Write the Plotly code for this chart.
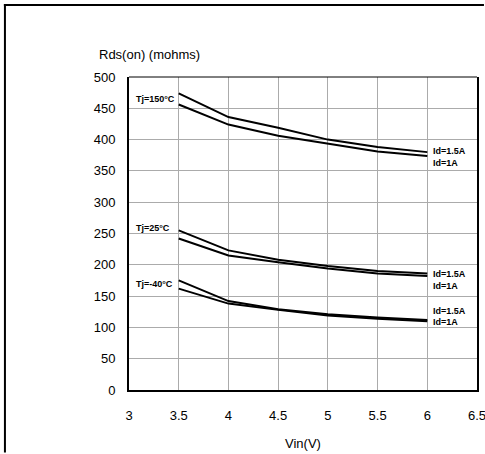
import plotly.graph_objects as go

vin = [3.5, 4.0, 4.5, 5.0, 5.5, 6.0]
r150_15 = [474, 436, 419, 400, 388, 380]
r150_10 = [456, 424, 406, 393, 381, 374]
r25_15 = [255, 223, 208, 198, 190, 186]
r25_10 = [242, 215, 204, 194, 186, 182]
rm40_15 = [175, 142, 129, 121, 116, 112]
rm40_10 = [162, 138, 128, 119, 114, 110]

x_ticks = [3, 3.5, 4, 4.5, 5, 5.5, 6, 6.5]
x_tick_text = ["3", "3.5", "4", "4.5", "5", "5.5", "6", "6.5"]
y_ticks = [0, 50, 100, 150, 200, 250, 300, 350, 400, 450, 500]

temp_labels = ["Tj=150°C", "Tj=25°C", "Tj=-40°C"]
temp_label_y = [465, 258, 170]
id_labels = ["Id=1.5A", "Id=1A", "Id=1.5A", "Id=1A", "Id=1.5A", "Id=1A"]
id_label_y = [382, 363, 186, 166, 127, 108]

FONT = "Liberation Sans, Arial, sans-serif"

fig = go.Figure()
for ys in [r150_15, r150_10, r25_15, r25_10, rm40_15, rm40_10]:
    fig.add_trace(go.Scatter(x=vin, y=ys, mode="lines",
                             line=dict(color="black", width=2),
                             showlegend=False, hoverinfo="skip"))

annotations = []
for t, y in zip(temp_labels, temp_label_y):
    annotations.append(dict(x=3.055, y=y, xref="x", yref="y", text="<b>%s</b>" % t,
                            showarrow=False, xanchor="left", yanchor="middle",
                            font=dict(family=FONT, size=9, color="black")))
for t, y in zip(id_labels, id_label_y):
    annotations.append(dict(x=6.035, y=y, xref="x", yref="y", text="<b>%s</b>" % t,
                            showarrow=False, xanchor="left", yanchor="middle",
                            font=dict(family=FONT, size=9, color="black")))
annotations.append(dict(x=-0.092, y=1.073, xref="paper", yref="paper",
                        text="Rds(on) (mohms)", showarrow=False,
                        xanchor="left", yanchor="middle",
                        font=dict(family=FONT, size=13, color="black")))
annotations.append(dict(x=0.5, y=-0.172, xref="paper", yref="paper",
                        text="Vin(V)", showarrow=False,
                        xanchor="center", yanchor="middle",
                        font=dict(family=FONT, size=13, color="black")))

fig.update_layout(
    width=485, height=454,
    margin=dict(l=129, r=8, t=77, b=64, pad=0, autoexpand=False),
    paper_bgcolor="white", plot_bgcolor="white",
    font=dict(family=FONT, size=13, color="black"),
    annotations=annotations,
    shapes=[
        dict(type="line", xref="paper", yref="paper", x0=0, x1=1, y0=1, y1=1,
             line=dict(color="black", width=1)),
        # outer frame: left and top edges only (rest is outside the picture)
        dict(type="line", xref="paper", yref="paper", x0=-0.3565, x1=-0.3565,
             y0=-0.2, y1=1.2333, line=dict(color="black", width=2)),
        dict(type="line", xref="paper", yref="paper", x0=-0.3595, x1=1.02,
             y0=1.2300, y1=1.2300, line=dict(color="black", width=2)),
    ],
    xaxis=dict(range=[3, 6.5], tickvals=x_ticks, ticktext=x_tick_text,
               showgrid=True, gridcolor="#ababab", gridwidth=1,
               showline=True, linecolor="black", linewidth=2, mirror=False,
               ticks="", ticklabelstandoff=12, zeroline=False, automargin=False,
               ticklabeloverflow="allow",
               tickfont=dict(family=FONT, size=13, color="black")),
    yaxis=dict(range=[0, 500], tickvals=y_ticks,
               showgrid=True, gridcolor="#ababab", gridwidth=1,
               showline=True, linecolor="black", linewidth=2, mirror=True,
               ticks="", ticklabelstandoff=9, zeroline=False, automargin=False,
               tickfont=dict(family=FONT, size=13, color="black")),
)

fig.write_html("out.html",
               config={"displayModeBar": False},
               post_script="document.body.style.margin='0';"
                           "document.body.style.overflow='hidden';"
                           "document.documentElement.style.overflow='hidden';")
